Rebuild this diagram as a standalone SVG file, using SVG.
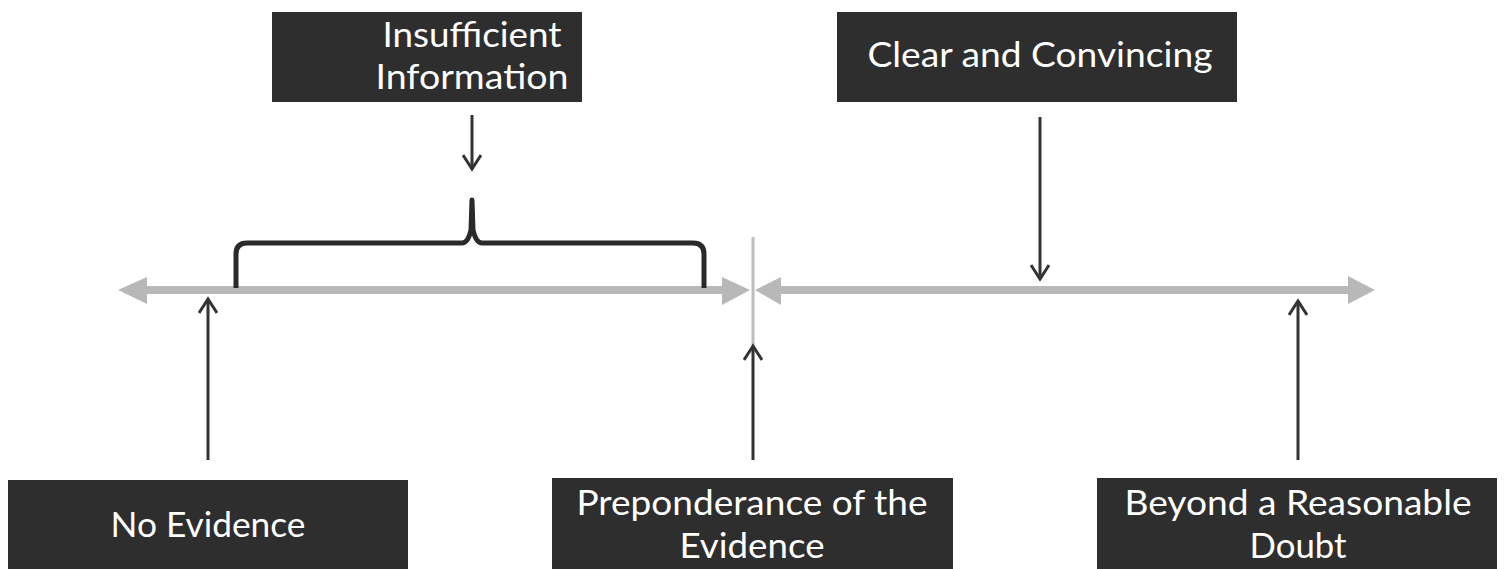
<svg xmlns="http://www.w3.org/2000/svg" width="1505" height="569" viewBox="0 0 1505 569">
<style>
.box{fill:#2e2e2e}
.lbl{fill:#ffffff;font-family:Lato,"Liberation Sans",sans-serif;font-size:35px;text-anchor:middle}
.axis{stroke:#b8b8b8;stroke-width:8;fill:none}
.head{fill:#b8b8b8}
.ptr{stroke:#333333;stroke-width:3;fill:none}
.brace{stroke:#2a2a2a;stroke-width:5;fill:none;stroke-linejoin:round}
</style>
<defs>
<marker id="chev" viewBox="0 0 20 20" refX="17" refY="10" markerWidth="20" markerHeight="20" markerUnits="userSpaceOnUse" orient="auto">
<path d="M3,1 L17,10 L3,19" fill="none" stroke="#333333" stroke-width="3"/>
</marker>
</defs>
<g id="connectors">
<line class="axis" x1="140" y1="290" x2="725" y2="290"/>
<polygon class="head" points="118,290 147,277 147,304"/>
<polygon class="head" points="750,290 722,277 722,305"/>
<line class="axis" x1="778" y1="290" x2="1350" y2="290"/>
<polygon class="head" points="755,290 781,277 781,305"/>
<polygon class="head" points="1375,290 1348,276 1348,304"/>
<line x1="753" y1="237" x2="753" y2="345" stroke="#bdbdbd" stroke-width="3"/>
<path class="brace" d="M236,288 L236,254 Q236,243 247,243 L462,243 Q468,243 471,230 L472,200 L473,230 Q476,243 482,243 L693,243 Q704,243 704,254 L704,288"/>
<line class="ptr" x1="472" y1="115" x2="472" y2="169" marker-end="url(#chev)"/>
<line class="ptr" x1="1040" y1="117" x2="1040" y2="279" marker-end="url(#chev)"/>
<line class="ptr" x1="208" y1="460" x2="208" y2="299" marker-end="url(#chev)"/>
<line class="ptr" x1="753" y1="460" x2="753" y2="346" marker-end="url(#chev)"/>
<line class="ptr" x1="1298" y1="460" x2="1298" y2="301" marker-end="url(#chev)"/>
</g>
<g id="insufficient">
<rect class="box" x="272" y="12" width="310" height="90"/>
<text class="lbl" x="472" y="47" textLength="179" lengthAdjust="spacingAndGlyphs">Insufficient</text>
<text class="lbl" x="472" y="89" textLength="193" lengthAdjust="spacingAndGlyphs">Information</text>
</g>
<g id="clear">
<rect class="box" x="837" y="12" width="400" height="90"/>
<text class="lbl" x="1040" y="67" textLength="345" lengthAdjust="spacingAndGlyphs">Clear and Convincing</text>
</g>
<g id="no-evidence">
<rect class="box" x="8" y="480" width="400" height="95"/>
<text class="lbl" x="208" y="537" textLength="195" lengthAdjust="spacingAndGlyphs">No Evidence</text>
</g>
<g id="preponderance">
<rect class="box" x="552" y="478" width="401" height="97"/>
<text class="lbl" x="752" y="515" textLength="351" lengthAdjust="spacingAndGlyphs">Preponderance of the</text>
<text class="lbl" x="752" y="558" textLength="145" lengthAdjust="spacingAndGlyphs">Evidence</text>
</g>
<g id="beyond">
<rect class="box" x="1097" y="478" width="400" height="97"/>
<text class="lbl" x="1298" y="515" textLength="347" lengthAdjust="spacingAndGlyphs">Beyond a Reasonable</text>
<text class="lbl" x="1298" y="558" textLength="97" lengthAdjust="spacingAndGlyphs">Doubt</text>
</g>
</svg>
